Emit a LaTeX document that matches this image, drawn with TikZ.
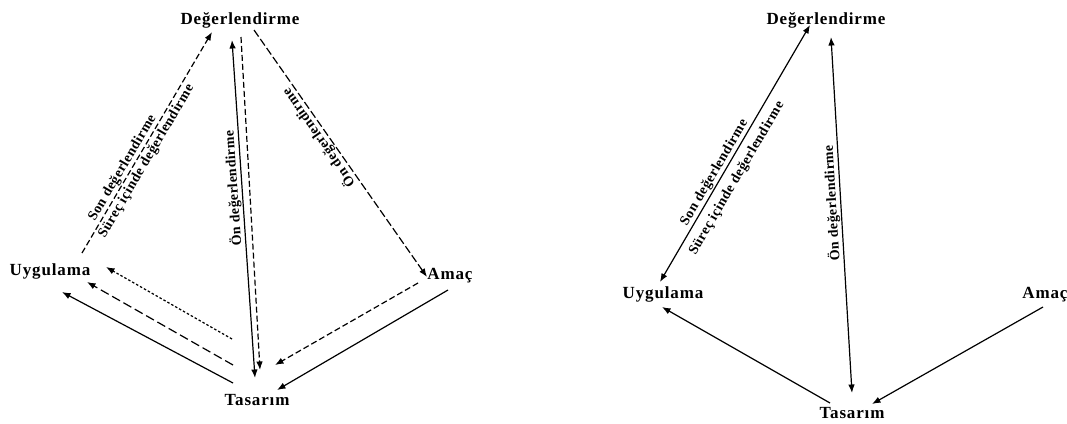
\documentclass[tikz,border=0pt]{standalone}
\usepackage{fontspec}
\setmainfont{Liberation Serif}
\newfontfamily\termfont[LetterSpace=5]{Liberation Serif}
\newfontfamily\notefont[LetterSpace=3.5]{Liberation Serif}
\usetikzlibrary{arrows.meta}
\begin{document}
\begin{tikzpicture}[x=1pt,y=-1pt,
  term/.style={font=\termfont\bfseries\fontsize{17}{17}\selectfont, inner sep=0pt, anchor=base},
  note/.style={font=\notefont\bfseries\fontsize{14}{14}\selectfont, inner sep=1pt},
  link/.style={line width=1.2pt},
  head/.style={-{Latex[length=8.5pt,width=6.5pt]}},
  heads/.style={{Latex[length=8.5pt,width=6.5pt]}-{Latex[length=8.5pt,width=6.5pt]}},
  dashA/.style={dash pattern=on 6pt off 3pt},
  dashB/.style={dash pattern=on 8pt off 3pt},
  dashC/.style={dash pattern=on 9pt off 4pt},
  dashD/.style={dash pattern=on 2.5pt off 2pt}]
\useasboundingbox (0,0) rectangle (1067,423);
\fill[white] (0,0) rectangle (1067,423);

% ---------- left model ----------
\node[term] (DL) at (240,24) {Değerlendirme};
\node[term] (UL) at (50,275) {Uygulama};
\node[term] (AL) at (450,279) {Amaç};
\node[term] (TL) at (257,405) {Tasarım};

\draw[link,dashA,head] ([shift={(32,-22)}]UL.base) --
  node[note,pos=0.366,rotate=59.5,anchor=south]{Son değerlendirme}
  node[note,pos=0.436,rotate=59.5,anchor=north,inner sep=2pt]{Süreç içinde değerlendirme}
  ([shift={(-28,8)}]DL.base);
\draw[link,heads] ([shift={(-2,-27)}]TL.base) --
  node[note,pos=0.563,rotate=93.9,anchor=south]{Ön değerlendirme}
  ([shift={(-8,16)}]DL.base);
\draw[link,dashA,head] ([shift={(1,13)}]DL.base) -- ([shift={(3,-35)}]TL.base);
\draw[link,dashB,head] ([shift={(14,6)}]DL.base) --
  node[note,pos=0.416,rotate=125,anchor=south]{Ön değerlendirme}
  ([shift={(-23,-2)}]AL.base);
\draw[link,dashA,head] ([shift={(-32,4)}]AL.base) -- ([shift={(18,-40)}]TL.base);
\draw[link,head] ([shift={(-2,11)}]AL.base) -- ([shift={(20,-15)}]TL.base);
\draw[link,head] ([shift={(-24,-22)}]TL.base) -- ([shift={(12,17)}]UL.base);
\draw[link,dashC,head] ([shift={(-24,-40)}]TL.base) -- ([shift={(37,7)}]UL.base);
\draw[link,dashD,head] ([shift={(-25,-66)}]TL.base) -- ([shift={(56,-8)}]UL.base);

% ---------- right model ----------
\node[term] (DR) at (826,24) {Değerlendirme};
\node[term] (UR) at (663,298) {Uygulama};
\node[term] (AR) at (1045,298) {Amaç};
\node[term] (TR) at (852,418) {Tasarım};

\draw[link,heads] ([shift={(-3,-16)}]UR.base) --
  node[note,pos=0.409,rotate=59.7,anchor=south]{Son değerlendirme}
  node[note,pos=0.431,rotate=59.7,anchor=north,inner sep=7pt]{Süreç içinde değerlendirme}
  ([shift={(-16,1)}]DR.base);
\draw[link,heads] ([shift={(0,-25)}]TR.base) --
  node[note,pos=0.535,rotate=93.4,anchor=south]{Ön değerlendirme}
  ([shift={(5,13)}]DR.base);
\draw[link,head] ([shift={(-22,-15)}]TR.base) -- ([shift={(-1,9)}]UR.base);
\draw[link,head] ([shift={(-2,9)}]AR.base) -- ([shift={(20,-14)}]TR.base);
\end{tikzpicture}
\end{document}
